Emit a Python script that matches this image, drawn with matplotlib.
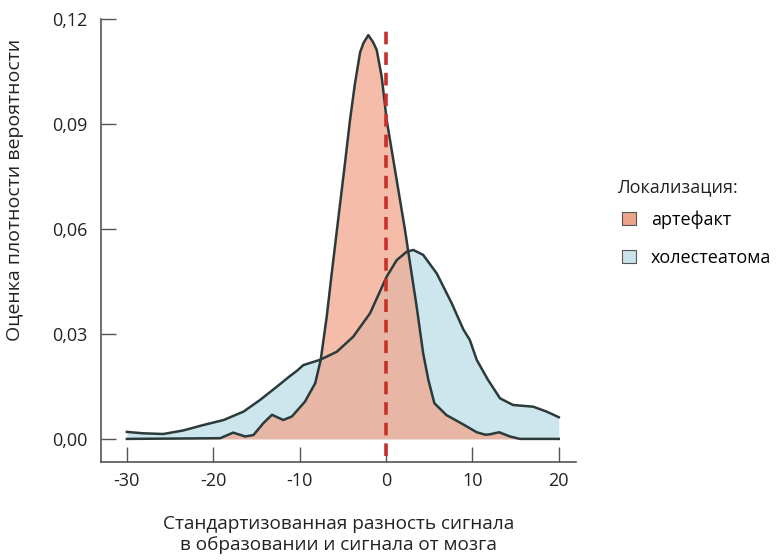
import numpy as np
import matplotlib.pyplot as plt
from matplotlib.patches import Patch

plt.rcParams['font.family'] = ['Open Sans', 'DejaVu Sans']

# Кривые плотности
x_art = [-30, -19.2, -17.7, -16.3, -15.35, -14.2, -13.2, -11.9, -10.9, -9.4, -8.2, -7.56,
         -6.86, -6.3, -5.5, -4.75, -4.17, -3.6, -3.0, -2.6, -2.05, -1.5, -1.08, -0.5,
         0.08, 1.04, 2.2, 2.78, 3.55, 4.3, 4.9, 5.6, 7.0, 8.9, 10.5, 11.5, 12.0, 13.1,
         14.35, 15.5, 20]
y_art = [0, 0.0002, 0.0018, 0.0007, 0.0011, 0.0045, 0.0069, 0.0054, 0.0064, 0.0106,
         0.0159, 0.0226, 0.035, 0.047, 0.0635, 0.0788, 0.0911, 0.1015, 0.1105, 0.1132,
         0.1154, 0.1134, 0.1112, 0.1035, 0.0911, 0.0769, 0.0597, 0.0502, 0.0378, 0.0245,
         0.0169, 0.0102, 0.0068, 0.0042, 0.0019, 0.0012, 0.0013, 0.0019, 0.0007, 0, 0]

x_chol = [-30, -28.1, -25.8, -23.5, -21.1, -18.8, -16.5, -14.6, -12.65, -11.1, -10.3,
          -9.57, -7.64, -5.7, -3.8, -1.85, 0.08, 1.24, 2.4, 3.16, 4.3, 5.87, 7.6, 8.95,
          9.7, 10.5, 11.8, 13.2, 14.7, 17.05, 18.6, 20]
y_chol = [0.002, 0.0016, 0.0014, 0.0024, 0.004, 0.0054, 0.0078, 0.0111, 0.0149, 0.018,
          0.0195, 0.0211, 0.0226, 0.0249, 0.0292, 0.0359, 0.0464, 0.0511, 0.0535, 0.054,
          0.0526, 0.0473, 0.0388, 0.0313, 0.0283, 0.0226, 0.0169, 0.0116, 0.0097, 0.0092,
          0.0078, 0.0062]

labels = ['артефакт', 'холестеатома']
fill_art = '#f2a78c'
fill_chol = '#cde6ee'
line_col = '#2b3a3a'

fig = plt.figure(figsize=(7.78, 5.6), dpi=100)
ax = fig.add_axes([0.1298, 0.175, 0.6106, 0.791])

ax.fill_between(x_chol, y_chol, 0, color=fill_chol, lw=0)
ax.plot(x_chol, y_chol, color=line_col, lw=1.8, solid_joinstyle='round')
ax.fill_between(x_art, y_art, 0, color=fill_art, alpha=0.75, lw=0)
ax.plot(x_art, y_art, color=line_col, lw=1.8, solid_joinstyle='round')
ax.vlines(0, -0.005, 0.1175, colors='#c8302a', linestyles=(0, (3.5, 2.2)), lw=2.6)

ax.set_xlim(-33, 22)
ax.set_ylim(-0.0066, 0.12)
ax.set_xticks([-30, -20, -10, 0, 10, 20])
ax.set_xticklabels(['-30', '-20', '-10', '0', '10', '20'])
ax.set_yticks([0, 0.03, 0.06, 0.09, 0.12])
ax.set_yticklabels(['0,00', '0,03', '0,06', '0,09', '0,12'])
ax.tick_params(direction='in', length=11, width=1.0, color='#555555',
               labelsize=13, labelcolor='#222222')
ax.tick_params(axis='x', pad=7.5)
ax.tick_params(axis='y', pad=9.5)
for s in ['top', 'right']:
    ax.spines[s].set_visible(False)
for s in ['left', 'bottom']:
    ax.spines[s].set_color('#555555')
    ax.spines[s].set_linewidth(1.2)

ax.set_xlabel('Стандартизованная разность сигнала\nв образовании и сигнала от мозга',
              fontsize=13.7, color='#222222', labelpad=18, linespacing=1.2)
fig.text(15 / 778, 1 - 190 / 560, 'Оценка плотности вероятности', rotation=90,
         fontsize=14, color='#222222', ha='center', va='center')

# легенда: заголовок отдельно, пункты ниже
fig.text(617 / 778, 1 - 187 / 560, 'Локализация:', fontsize=13, color='#222222',
         ha='left', va='center')
handles = [Patch(facecolor='#eba58c', edgecolor='#555555', lw=0.8),
           Patch(facecolor='#c9e3ea', edgecolor='#555555', lw=0.8)]
leg = fig.legend(handles, labels, loc='upper left',
                 bbox_to_anchor=(606 / 778, 1 - 194 / 560), frameon=False,
                 fontsize=13, handlelength=0.75, handleheight=0.75,
                 handletextpad=0.85, labelspacing=1.1)

fig.savefig('out.png', dpi=100)
